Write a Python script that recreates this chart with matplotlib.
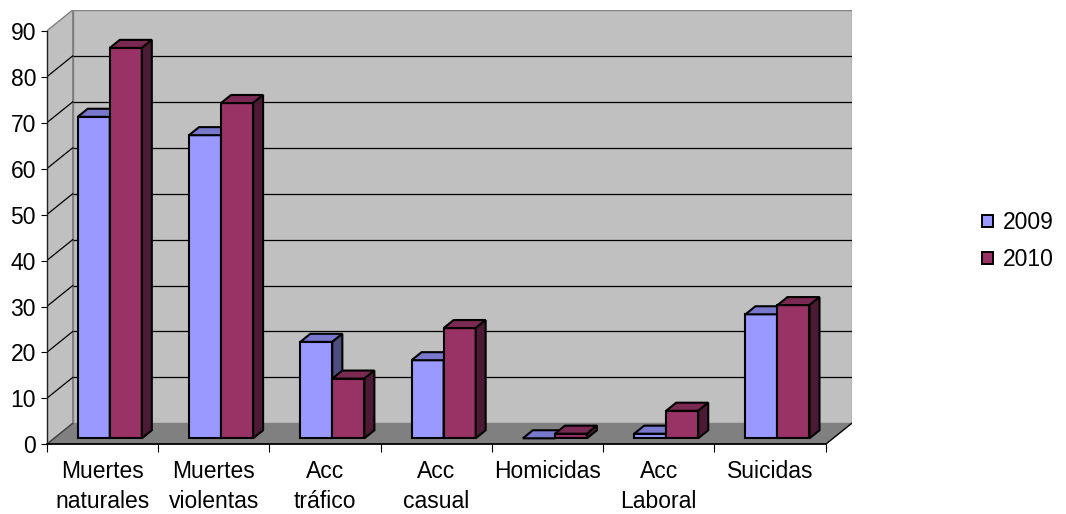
import matplotlib
matplotlib.use("Agg")
import matplotlib.pyplot as plt
from matplotlib.patches import Polygon, Patch

categories = ["Muertes\nnaturales", "Muertes\nviolentas", "Acc\ntráfico", "Acc\ncasual",
              "Homicidas", "Acc\nLaboral", "Suicidas"]
series_names = ["2009", "2010"]
values_2009 = [70, 66, 21, 17, 0, 1, 27]
values_2010 = [85, 73, 13, 24, 1, 6, 29]
yticks = [0, 10, 20, 30, 40, 50, 60, 70, 80, 90]

front_colors = ["#9999FF", "#993366"]
top_colors = ["#7878CC", "#7A2952"]
side_colors = ["#4D4D80", "#4D1A33"]

plt.rcParams['font.family'] = ['Liberation Sans', 'DejaVu Sans']
FS = 16.5

W, H = 1066, 514
fig = plt.figure(figsize=(W / 100, H / 100), dpi=100)

left_px, right_px = 46.7, 851.7
bottom_px, top_px = 444.3, 10.0
ax = fig.add_axes([left_px / W, (H - bottom_px) / H, (right_px - left_px) / W, (bottom_px - top_px) / H])

n = len(categories)
px_per_cat = (825.0 - left_px) / n
px_per_unit = (bottom_px - 30.0) / 90.0
ddx = 26.0 / px_per_cat       # depth offset in category units
ddy = 21.0 / px_per_unit      # depth offset in value units
ymax = yticks[-1]

ax.set_xlim(0, n + ddx)
ax.set_ylim(0, ymax + ddy)

# walls and floor
ax.add_patch(Polygon([(ddx, ddy), (n + ddx, ddy), (n + ddx, ymax + ddy), (ddx, ymax + ddy)],
                     closed=True, facecolor="#C0C0C0", edgecolor="#808080", lw=1, zorder=1))
ax.add_patch(Polygon([(0, 0), (ddx, ddy), (ddx, ymax + ddy), (0, ymax)],
                     closed=True, facecolor="#C0C0C0", edgecolor="#808080", lw=1, zorder=1))
ax.add_patch(Polygon([(0, 0), (n, 0), (n + ddx, ddy), (ddx, ddy)],
                     closed=True, facecolor="#808080", edgecolor="none", lw=0, zorder=2))
for v in yticks[1:-1]:
    ax.plot([ddx, n + ddx], [v + ddy, v + ddy], color="black", lw=0.9, zorder=1.5, solid_capstyle='butt')
    ax.plot([0, ddx], [v, v + ddy], color="black", lw=0.9, zorder=1.5)
ax.plot([n, n + ddx], [0, ddy], color="black", lw=1.0, zorder=2.5)
ax.plot([0, ddx], [0, ddy], color="#404040", lw=1.0, zorder=2.5)

# 3D bars
bar_w = 32.0 / px_per_cat
f_front = 6.0 / 21.0
f_depth = 10.0 / 26.0
lw_bar = 1.5
for i in range(n):
    for j, vals in enumerate([values_2009, values_2010]):
        v = vals[i]
        x0 = i + 0.5 - bar_w + j * bar_w + f_front * ddx
        x1 = x0 + bar_w
        y0 = f_front * ddy
        y1 = y0 + v
        dx, dy = f_depth * ddx, f_depth * ddy
        z = 3 + i * 0.1 + j * 0.01
        ax.add_patch(Polygon([(x0, y0), (x1, y0), (x1, y1), (x0, y1)], closed=True,
                             facecolor=front_colors[j], edgecolor="black", lw=lw_bar,
                             joinstyle='miter', zorder=z))
        ax.add_patch(Polygon([(x0, y1), (x1, y1), (x1 + dx, y1 + dy), (x0 + dx, y1 + dy)], closed=True,
                             facecolor=top_colors[j], edgecolor="black", lw=lw_bar,
                             joinstyle='miter', zorder=z))
        ax.add_patch(Polygon([(x1, y0), (x1 + dx, y0 + dy), (x1 + dx, y1 + dy), (x1, y1)], closed=True,
                             facecolor=side_colors[j], edgecolor="black", lw=lw_bar,
                             joinstyle='miter', zorder=z))

# axes
for s in ["top", "right"]:
    ax.spines[s].set_visible(False)
ax.spines["left"].set_bounds(0, ymax)
ax.spines["bottom"].set_bounds(0, n)
ax.spines["left"].set_color("#202020")
ax.spines["bottom"].set_color("black")
ax.spines["left"].set_linewidth(1.0)
ax.spines["bottom"].set_linewidth(1.3)
ax.spines["left"].set_zorder(2.6)
ax.spines["bottom"].set_zorder(2.6)

ax.set_yticks(yticks)
ax.set_yticklabels([str(t) for t in yticks])
ax.tick_params(axis='y', direction='out', length=4.5, width=0.8, labelsize=FS, pad=3.2, colors='black')

ax.set_xticks([i + 0.5 for i in range(n)])
ax.set_xticklabels(categories)
ax.set_xticks(list(range(n + 1)), minor=True)
ax.tick_params(axis='x', which='major', length=0, labelsize=FS, pad=11)
ax.tick_params(axis='x', which='minor', length=5.5, width=0.8, direction='out')
for lbl in ax.get_xticklabels():
    lbl.set_linespacing(1.42)
    lbl.set_verticalalignment('top')

handles = [Patch(facecolor=front_colors[k], edgecolor="black", lw=1.4, label=series_names[k]) for k in range(2)]
fig.legend(handles=handles, loc='center left', bbox_to_anchor=(971 / W, (H - 241) / H),
           frameon=False, fontsize=FS, handlelength=0.45, handleheight=0.45,
           handletextpad=0.45, labelspacing=0.62, borderpad=0)

fig.savefig("out.png", dpi=100)
